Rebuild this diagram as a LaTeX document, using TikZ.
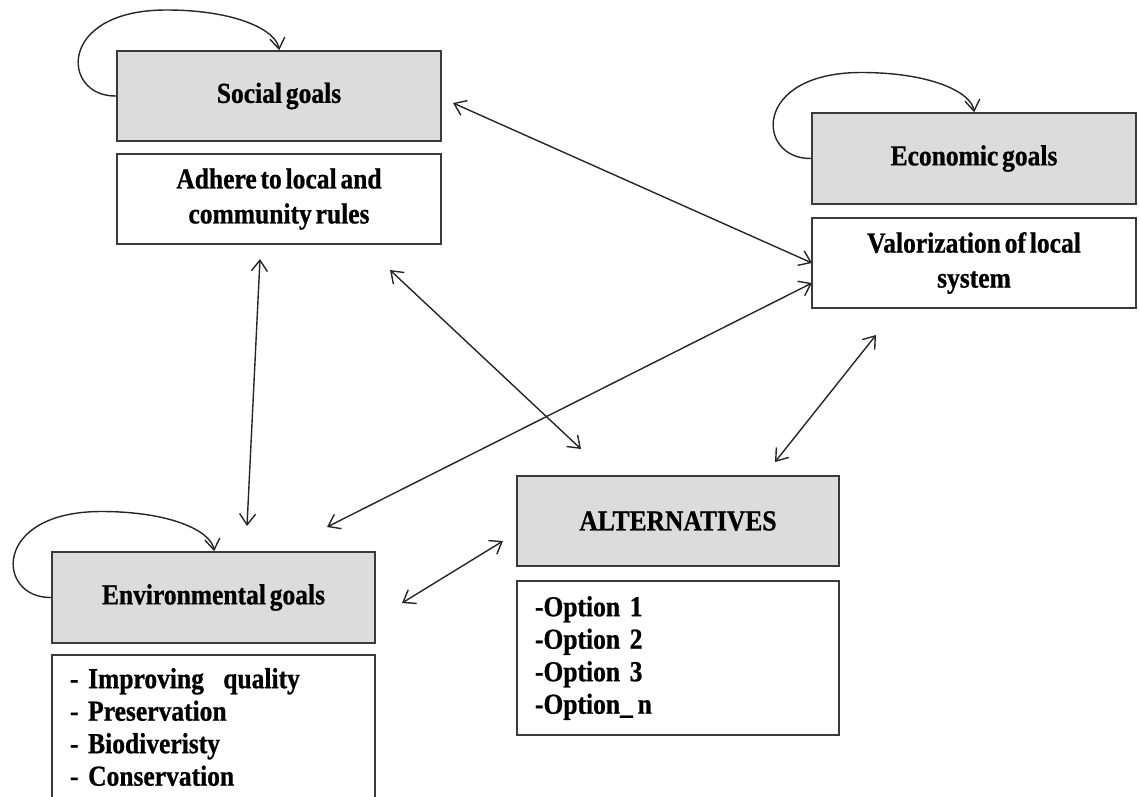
\documentclass[tikz,border=0pt]{standalone}
\usepackage{fontspec}
\setmainfont{Liberation Serif}[FakeStretch=0.88, WordSpace=0.6, BoldFeatures={FakeBold=0.8}]
\usetikzlibrary{arrows.meta,calc}
\definecolor{goalfill}{HTML}{DCDCDC}
\definecolor{edge}{HTML}{3A3A3A}
% feedback loop that leaves a box on its left side and re-enters it from the top
\newcommand\goalloop[1]{%
  \draw[loopline] (#1.west)
    .. controls ($(#1.west)+(-55,1)$) and ($(#1.west)+(-60,-86)$) .. ($(#1.west)+(50,-86)$)
    .. controls ($(#1.west)+(120,-86)$) and ($(#1.north west)+(160,-20)$) .. ($(#1.north west)+(163,0)$);}
\begin{document}
\begin{tikzpicture}[x=1pt,y=-1pt,
  goal/.style={draw=edge, line width=1.6pt, fill=goalfill, minimum width=324pt, minimum height=90pt,
    inner sep=0pt, align=center, font=\bfseries\fontsize{29}{35}\selectfont},
  detail/.style={goal, fill=white},
  items/.style={draw=edge, line width=1.6pt, fill=white, inner xsep=18pt, inner ysep=0pt,
    text width=288pt, align=left, font=\bfseries\fontsize{29}{32.5}\selectfont},
  link/.style={line width=1.4pt, draw=black!85,
    {Straight Barb[length=11pt,width=16pt]}-{Straight Barb[length=11pt,width=16pt]}},
  loopline/.style={line width=1.4pt, draw=black!85, -{Straight Barb[length=11pt,width=15pt]}}]

\useasboundingbox (0,0) rectangle (1140,796);
\clip (0,0) rectangle (1140,796);

% goal boxes and their descriptions
\node[goal] (social) at (279,96) {Social goals};
\node[detail] (adhere) at (279,199) {Adhere to local and\\community rules};
\node[goal, minimum height=91pt] (econ) at (974,158.5) {Economic goals};
\node[detail] (valor) at (974,263) {Valorization of local\\system};
\node[goal, minimum width=323pt, minimum height=91pt] (env) at (213.5,597.5) {Environmental goals};
\node[items, minimum height=144pt, text width=287pt] (envitems) at (213.5,727)
  {- Improving\ \ quality\\- Preservation\\- Biodiveristy\\- Conservation};
\node[goal, minimum width=322pt] (alt) at (678,521) {ALTERNATIVES};
\node[items, minimum height=154pt, text width=286pt] (opts) at (678,658)
  {-Option 1\\-Option 2\\-Option 3\\-Option\_\,n};

% self loops
\goalloop{social}
\goalloop{econ}
\goalloop{env}

% connector end points
\coordinate (adhereS) at (260,259);
\coordinate (envN) at (247,526);
\coordinate (adhereSE) at (390,270);
\coordinate (altNW) at (581,449);
\coordinate (socialE) at (453,103);
\coordinate (valorW1) at (812,263);
\coordinate (envNE) at (327,527);
\coordinate (valorW2) at (812,283);
\coordinate (valorS) at (876,335);
\coordinate (altNE) at (775,462);
\coordinate (envE) at (402,603);
\coordinate (altW) at (503,541);

% two-way relations
\draw[link] (adhereS) -- (envN);
\draw[link] (adhereSE) -- (altNW);
\draw[link] (socialE) -- (valorW1);
\draw[link] (envNE) -- (valorW2);
\draw[link] (valorS) -- (altNE);
\draw[link] (envE) -- (altW);
\end{tikzpicture}
\end{document}
